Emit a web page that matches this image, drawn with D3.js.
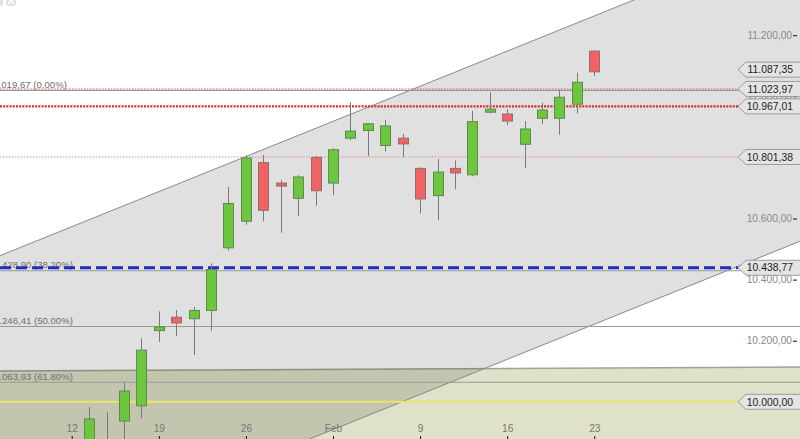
<!DOCTYPE html>
<html><head><meta charset="utf-8">
<script src="https://cdn.jsdelivr.net/npm/d3@7"></script>
<style>
body{margin:0;background:#fff;overflow:hidden}
svg{display:block;font-family:"Liberation Sans",Arial,sans-serif}
</style>
</head><body>
<svg id="chart" width="800" height="439"></svg>
<script>
// ---------- DATA ----------
const tradingDays = ["2015-01-12","2015-01-13","2015-01-14","2015-01-15","2015-01-16",
  "2015-01-19","2015-01-20","2015-01-21","2015-01-22","2015-01-23",
  "2015-01-26","2015-01-27","2015-01-28","2015-01-29","2015-01-30",
  "2015-02-02","2015-02-03","2015-02-04","2015-02-05","2015-02-06",
  "2015-02-09","2015-02-10","2015-02-11","2015-02-12","2015-02-13",
  "2015-02-16","2015-02-17","2015-02-18","2015-02-19","2015-02-20",
  "2015-02-23"];
const candleDays = tradingDays.slice(1);
const opens  = [9800, 9860, 9937, 9987, 10233, 10277, 10272, 10299, 10504, 10591,
  10783, 10716, 10666, 10800, 10716, 10863, 10888, 10839, 10863, 10764,
  10675, 10764, 10743, 10948, 10942, 10843, 10928, 10928, 10974, 11148];
const highs  = [9983, 9966, 10064, 10208, 10296, 10300, 10311, 10453, 10703, 10806,
  10808, 10727, 10742, 10805, 10830, 10981, 10912, 10923, 10877, 10768,
  10795, 10790, 10952, 11013, 10958, 10919, 10979, 11021, 11077, 11150];
const lows   = [9760, 9720, 9800, 9947, 10196, 10215, 10153, 10232, 10495, 10580,
  10591, 10553, 10609, 10642, 10676, 10857, 10803, 10819, 10801, 10616,
  10594, 10696, 10738, 10944, 10906, 10765, 10909, 10874, 10944, 11066];
const closes = [9944, 9818, 10035, 10169, 10245, 10258, 10299, 10433, 10649, 10798,
  10627, 10706, 10736, 10691, 10825, 10886, 10910, 10903, 10844, 10664,
  10752, 10749, 10917, 10958, 10919, 10893, 10955, 10997, 11046, 11080];

const xTickDays   = ["2015-01-12","2015-01-19","2015-01-26","2015-02-02","2015-02-09","2015-02-16","2015-02-23"];
const xTickLabels = ["12","19","26","Feb","9","16","23"];
const yTicks = [10000, 10200, 10400, 10600, 10800, 11000, 11200];

// trend channel (trading-day offsets from 12 Jan, price at each end)
const channelSpan  = [-10, 50];
const channelUpper = [10343, 11723];
const channelLower = [9334, 10714];
// support zone (top edge)
const zoneSpan = [-10, 50];
const zoneTop  = [10099, 10116];
const zoneBottom = 9000;

// Fibonacci retracement
const fibValues = [11019.67, 10428.90, 10246.41, 10063.93];
const fibPct    = ["0.00%", "38.20%", "50.00%", "61.80%"];

// horizontal price levels
const levelValues = [11023.97, 10967.01, 10801.38, 10438.77, 10000.00];
const levelKinds  = ["redThin", "redThick", "redFaint", "blue", "yellow"];
const lastPrice = 11087.35;

// ---------- SETUP ----------
const W = 800, H = 439;
const svg = d3.select("#chart");
const de = d3.formatLocale({decimal: ",", thousands: ".", grouping: [3], currency: ["", "€"]});
const fmt = de.format(",.2f");

const xi = d3.scaleLinear().domain([0, tradingDays.length - 1]).range([71.7, 594.3]);
const x = d => xi(tradingDays.indexOf(d));
const xPoint = d3.scalePoint().domain(tradingDays).range([71.7, 594.3]);
const y = d3.scaleLinear().domain([10000, 11200]).range([401.8, 35.2]);

svg.append("defs").append("clipPath").attr("id", "clip")
  .append("rect").attr("width", W).attr("height", H);
const plot = svg.append("g").attr("clip-path", "url(#clip)");

plot.append("rect").attr("width", W).attr("height", H).attr("fill", "#fff");

// support zone
plot.append("path")
  .attr("d", d3.line()([[xi(zoneSpan[0]), y(zoneTop[0])], [xi(zoneSpan[1]), y(zoneTop[1])],
    [xi(zoneSpan[1]), y(zoneBottom)], [xi(zoneSpan[0]), y(zoneBottom)]]) + "Z")
  .attr("fill", "#dfe1c8");
plot.append("line")
  .attr("x1", xi(zoneSpan[0])).attr("y1", y(zoneTop[0]))
  .attr("x2", xi(zoneSpan[1])).attr("y2", y(zoneTop[1]))
  .attr("stroke", "#a2a296").attr("stroke-width", 1.5);

// channel
const up = [[xi(channelSpan[0]), y(channelUpper[0])], [xi(channelSpan[1]), y(channelUpper[1])]];
const lo = [[xi(channelSpan[0]), y(channelLower[0])], [xi(channelSpan[1]), y(channelLower[1])]];
plot.append("path")
  .attr("d", d3.line()([up[0], up[1], lo[1], lo[0]]) + "Z")
  .attr("fill", "#000").attr("fill-opacity", 0.12);
[up, lo].forEach(l => plot.append("path").attr("d", d3.line()(l))
  .attr("stroke", "#888").attr("stroke-width", 1).attr("fill", "none"));

// fib lines
plot.selectAll(".fib").data(fibValues).join("line")
  .attr("x1", 0).attr("x2", W)
  .attr("y1", d => y(d)).attr("y2", d => y(d))
  .attr("stroke", "#9a9a94").attr("stroke-width", 1.2);

// fib labels
const tmp = svg.append("text").attr("font-size", 9.6).text("10.");
const pre = tmp.node().getComputedTextLength();
tmp.remove();
plot.selectAll(".fibl").data(fibValues).join("text")
  .attr("x", 2 - pre).attr("y", d => y(d) - 2.5)
  .attr("font-size", 9.6).attr("fill", "#6f6f6f")
  .text((d, i) => fmt(d) + " (" + fibPct[i] + ")");

// price levels
const tagTip = 738;
const levelStyle = {
  redThin:  {stroke: "#d46a6a", w: 1, dash: "1.5,1.5", x2: tagTip},
  redThick: {stroke: "#e02828", w: 2.2, dash: "2,1.2", x2: tagTip},
  redFaint: {stroke: "#d99090", w: 1, dash: "1.5,1.5", x2: tagTip},
  blue:     {stroke: "#1c2fc2", w: 3, dash: "11,5", x2: tagTip},
  yellow:   {stroke: "#ebe26a", w: 2, dash: null, x2: tagTip}
};
plot.selectAll(".lvl").data(levelValues).join("line")
  .attr("x1", 0).attr("x2", (d, i) => levelStyle[levelKinds[i]].x2)
  .attr("y1", d => y(d)).attr("y2", d => y(d))
  .attr("stroke", (d, i) => levelStyle[levelKinds[i]].stroke)
  .attr("stroke-width", (d, i) => levelStyle[levelKinds[i]].w)
  .attr("stroke-dasharray", (d, i) => levelStyle[levelKinds[i]].dash);

// candles
const candles = candleDays.map((d, i) => ({d, o: opens[i], h: highs[i], l: lows[i], c: closes[i]}));
const cg = plot.append("g");
cg.selectAll(".wick").data(candles).join("line")
  .attr("x1", d => Math.round(x(d.d)) + 0.5).attr("x2", d => Math.round(x(d.d)) + 0.5)
  .attr("y1", d => y(d.h)).attr("y2", d => y(d.l))
  .attr("stroke", "#7a7a7a").attr("stroke-width", 1);
cg.selectAll(".body").data(candles).join("rect")
  .attr("x", d => Math.round(x(d.d)) - 4.5).attr("width", 10)
  .attr("y", d => y(Math.max(d.o, d.c)))
  .attr("height", d => Math.max(1, Math.abs(y(d.o) - y(d.c))))
  .attr("fill", d => d.c >= d.o ? "#6cc63e" : "#f26262")
  .attr("stroke", d => d.c >= d.o ? "#5f8a4c" : "#8a7070")
  .attr("stroke-width", 1);

// y axis
const yAxis = svg.append("g").attr("transform", "translate(797,0)")
  .call(d3.axisLeft(y).tickValues(yTicks).tickFormat(fmt).tickSizeInner(4).tickSizeOuter(0).tickPadding(1));
yAxis.select(".domain").remove();
yAxis.selectAll("line").attr("stroke", "#111");
yAxis.selectAll("text").attr("fill", "#8a8a8a").attr("font-size", 10.2)
  .attr("font-family", "Liberation Sans, Arial, sans-serif");

// x axis
const xAxis = svg.append("g").attr("transform", "translate(0," + H + ")")
  .call(d3.axisTop(xPoint).tickValues(xTickDays)
    .tickFormat(d => xTickLabels[xTickDays.indexOf(d)]).tickSizeInner(3).tickSizeOuter(0).tickPadding(4));
xAxis.select(".domain").remove();
xAxis.selectAll("line").attr("stroke", "#111");
xAxis.selectAll("text").attr("fill", "#777").attr("font-size", 10.2)
  .attr("font-family", "Liberation Sans, Arial, sans-serif");

// price tags
const tagValues = [lastPrice].concat(levelValues);
const tg = svg.append("g");
tagValues.forEach(v => {
  const cy = y(v);
  tg.append("path")
    .attr("d", `M${tagTip},${cy} L${tagTip + 8},${cy - 7.5} L${W + 2},${cy - 7.5} L${W + 2},${cy + 7.5} L${tagTip + 8},${cy + 7.5} Z`)
    .attr("fill", "#e4e4e4").attr("stroke", "#9c9c9c").attr("stroke-width", 1);
  tg.append("text").attr("x", 793).attr("y", cy + 3.7)
    .attr("text-anchor", "end").attr("font-size", 10.4).attr("fill", "#222")
    .text(fmt(v));
});

// small close icon, top-left
const ic = svg.append("g");
ic.append("rect").attr("x", -3).attr("y", -6).attr("width", 6).attr("height", 12).attr("rx", 2).attr("fill", "#e2e2e2");
ic.append("rect").attr("x", 6).attr("y", -6).attr("width", 10).attr("height", 12).attr("rx", 2).attr("fill", "#e2e2e2");
ic.append("path").attr("d", "M8,-2 L14,4 M14,-2 L8,4").attr("stroke", "#fff").attr("stroke-width", 1.5);
</script>
</body></html>
